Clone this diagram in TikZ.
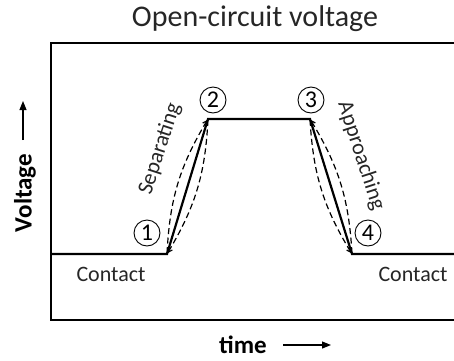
\documentclass[tikz,border=0pt]{standalone}
\usepackage{fontspec}
\setmainfont{Carlito}
\usetikzlibrary{arrows.meta,positioning}

\begin{document}
\begin{tikzpicture}[
  x=1pt, y=1pt,
  lbl/.style={font=\fontsize{22}{26}\selectfont, inner sep=0pt, text=black!85},
  axlbl/.style={font=\fontsize{25}{28}\selectfont\bfseries, inner sep=0pt},
  num/.style={draw, circle, line width=0.9pt, minimum size=26pt, inner sep=0pt,
              font=\fontsize{24}{25}\selectfont},
  sig/.style={line width=2.2pt},
  cyc/.style={-{Straight Barb[length=4pt,width=5pt]}, line width=1.2pt,
              dash pattern=on 6pt off 3.5pt, shorten >=1pt, shorten <=1pt},
  axarr/.style={-{Triangle[length=9pt,width=7pt]}, line width=1.1pt},
]

\useasboundingbox (0,0) rectangle (454,360);

%% ---- frame ----
\draw[line width=2.4pt] (460,317) -- (51,317) -- (51,40) -- (460,40);

%% ---- voltage curve ----
\coordinate (s0) at (51,106);
\coordinate (c1) at (167,106);
\coordinate (c2) at (208,241);
\coordinate (c3) at (310,241);
\coordinate (c4) at (352,106);
\coordinate (s5) at (460,106);
\draw[sig] (s0) -- (c1) -- (c2) -- (c3) -- (c4) -- (s5);

% dashed cycles round the two edges
\draw[cyc] (c1) to[bend left=14] (c2);
\draw[cyc] (c2) to[bend left=14] (c1);
\draw[cyc] (c3) to[bend right=14] (c4);
\draw[cyc] (c4) to[bend right=14] (c3);

%% ---- markers ----
\node[num] (n1) at (147,127) {1};
\node[num] (n2) at (213,260) {2};
\node[num] (n3) at (311,260) {3};
\node[num] (n4) at (368,127) {4};

%% ---- labels ----
\node[lbl, rotate=72]  (sep) at (160,211) {Separating};
\node[lbl, rotate=-72] (app) at (361,204) {Approaching};
\node[lbl] (ct1) at (111,86) {Contact};
\node[lbl] (ct2) at (413,86) {Contact};
\node[font=\fontsize{30}{33}\selectfont, text=black!85] (title) at (255,341) {Open-circuit voltage};

%% ---- axis labels ----
\node[axlbl, rotate=90] (vlt) at (25,167) {Voltage};
\coordinate (va) at (23,220);
\coordinate (vb) at (23,259);
\draw[axarr] (va) -- (vb);

\node[axlbl] (tm) at (243,15) {time};
\coordinate (ta) at (283,15);
\coordinate (tb) at (331,15);
\draw[axarr] (ta) -- (tb);

\end{tikzpicture}
\end{document}
